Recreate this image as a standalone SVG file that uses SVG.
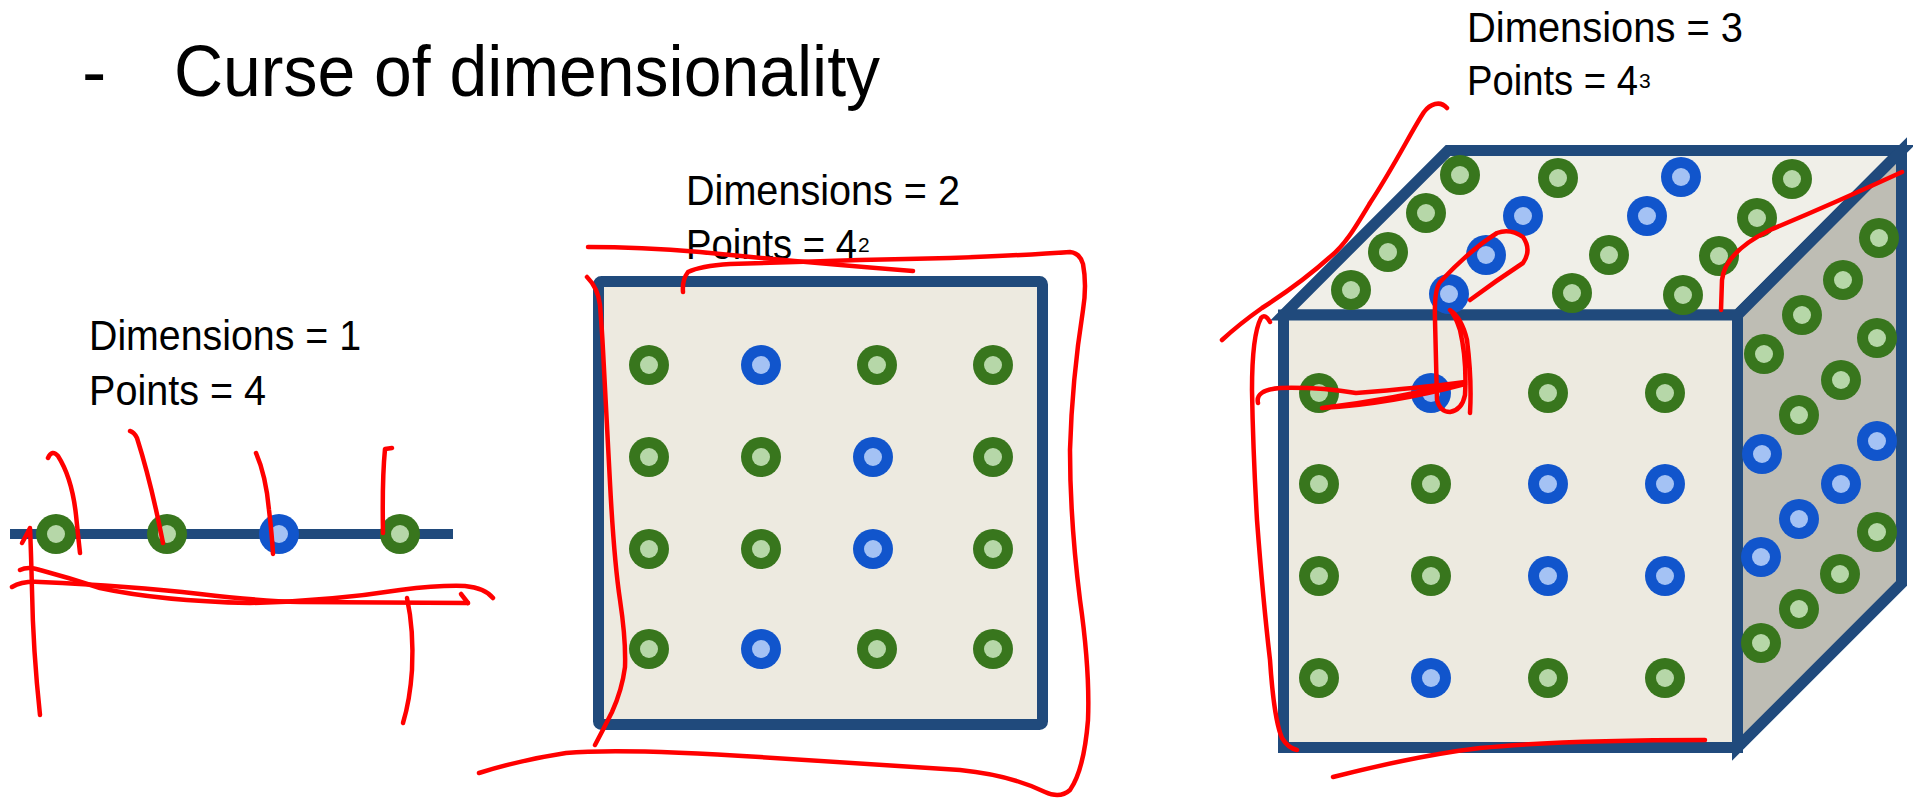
<svg xmlns="http://www.w3.org/2000/svg" xmlns:xlink="http://www.w3.org/1999/xlink" width="1913" height="799" viewBox="0 0 1913 799">
<style>
.t{font-family:"Liberation Sans",Arial,sans-serif;fill:#000}
.lbl{font-size:43px}
.sup{font-size:21px}
.edge{stroke:#204a7c;stroke-width:11;stroke-linejoin:miter}
.ink{fill:none;stroke:#ff0000;stroke-width:4.5;stroke-linecap:round;stroke-linejoin:round}
</style>
<defs>
<g id="gdot"><circle r="20" fill="#38761d"/><circle r="9" fill="#b6d7a8"/></g>
<g id="bdot"><circle r="20" fill="#1155cc"/><circle r="9" fill="#a4c2f4"/></g>
</defs>
<rect width="1913" height="799" fill="#ffffff"/>

<g id="title">
<text class="t" x="82" y="96" font-size="73">-</text>
<text class="t" x="174" y="96" font-size="73" textLength="706" lengthAdjust="spacingAndGlyphs">Curse of dimensionality</text>
</g>

<g id="dim1">
<text class="t lbl" x="89" y="350" textLength="272" lengthAdjust="spacingAndGlyphs">Dimensions = 1</text>
<text class="t lbl" x="89" y="405" textLength="177" lengthAdjust="spacingAndGlyphs">Points = 4</text>
<line x1="10" y1="534" x2="453" y2="534" stroke="#204a7c" stroke-width="10"/>
<use xlink:href="#gdot" x="56" y="534"/>
<use xlink:href="#gdot" x="167" y="534"/>
<use xlink:href="#bdot" x="279" y="534"/>
<use xlink:href="#gdot" x="400" y="534"/>
</g>

<g id="dim2">
<text class="t lbl" x="686" y="205" textLength="274" lengthAdjust="spacingAndGlyphs">Dimensions = 2</text>
<text class="t lbl" x="686" y="259"><tspan textLength="171" lengthAdjust="spacingAndGlyphs">Points = 4</tspan><tspan class="sup" dx="1" dy="-7">2</tspan></text>
<rect x="598.5" y="281.5" width="444" height="443" rx="3" fill="#edeae0" stroke="#204a7c" stroke-width="11"/>
<use xlink:href="#gdot" x="649" y="365"/>
<use xlink:href="#bdot" x="761" y="365"/>
<use xlink:href="#gdot" x="877" y="365"/>
<use xlink:href="#gdot" x="993" y="365"/>
<use xlink:href="#gdot" x="649" y="457"/>
<use xlink:href="#gdot" x="761" y="457"/>
<use xlink:href="#bdot" x="873" y="457"/>
<use xlink:href="#gdot" x="993" y="457"/>
<use xlink:href="#gdot" x="649" y="549"/>
<use xlink:href="#gdot" x="761" y="549"/>
<use xlink:href="#bdot" x="873" y="549"/>
<use xlink:href="#gdot" x="993" y="549"/>
<use xlink:href="#gdot" x="649" y="649"/>
<use xlink:href="#bdot" x="761" y="649"/>
<use xlink:href="#gdot" x="877" y="649"/>
<use xlink:href="#gdot" x="993" y="649"/>
</g>

<g id="dim3">
<text class="t lbl" x="1467" y="42" textLength="276" lengthAdjust="spacingAndGlyphs">Dimensions = 3</text>
<text class="t lbl" x="1467" y="95"><tspan textLength="171" lengthAdjust="spacingAndGlyphs">Points = 4</tspan><tspan class="sup" dx="1" dy="-7">3</tspan></text>
<polygon class="edge" points="1283.5,315 1448,150.5 1901.5,150.5 1737.5,315" fill="#f0efe8"/>
<polygon class="edge" points="1737.5,315 1901.5,150.5 1901.5,583.5 1737.5,747.5" fill="#bebdb4"/>
<rect class="edge" x="1283.5" y="315" width="454" height="432.5" fill="#edeae0"/>
<use xlink:href="#gdot" x="1460" y="175"/>
<use xlink:href="#gdot" x="1558" y="178"/>
<use xlink:href="#bdot" x="1681" y="177"/>
<use xlink:href="#gdot" x="1792" y="179"/>
<use xlink:href="#gdot" x="1426" y="213"/>
<use xlink:href="#bdot" x="1523" y="216"/>
<use xlink:href="#bdot" x="1647" y="216"/>
<use xlink:href="#gdot" x="1757" y="218"/>
<use xlink:href="#gdot" x="1388" y="252"/>
<use xlink:href="#bdot" x="1486" y="255"/>
<use xlink:href="#gdot" x="1609" y="255"/>
<use xlink:href="#gdot" x="1719" y="256"/>
<use xlink:href="#gdot" x="1351" y="290"/>
<use xlink:href="#bdot" x="1449" y="294"/>
<use xlink:href="#gdot" x="1572" y="293"/>
<use xlink:href="#gdot" x="1683" y="295"/>
<use xlink:href="#gdot" x="1319" y="393"/>
<use xlink:href="#bdot" x="1431" y="393"/>
<use xlink:href="#gdot" x="1548" y="393"/>
<use xlink:href="#gdot" x="1665" y="393"/>
<use xlink:href="#gdot" x="1319" y="484"/>
<use xlink:href="#gdot" x="1431" y="484"/>
<use xlink:href="#bdot" x="1548" y="484"/>
<use xlink:href="#bdot" x="1665" y="484"/>
<use xlink:href="#gdot" x="1319" y="576"/>
<use xlink:href="#gdot" x="1431" y="576"/>
<use xlink:href="#bdot" x="1548" y="576"/>
<use xlink:href="#bdot" x="1665" y="576"/>
<use xlink:href="#gdot" x="1319" y="678"/>
<use xlink:href="#bdot" x="1431" y="678"/>
<use xlink:href="#gdot" x="1548" y="678"/>
<use xlink:href="#gdot" x="1665" y="678"/>
<use xlink:href="#gdot" x="1879" y="238"/>
<use xlink:href="#gdot" x="1843" y="280"/>
<use xlink:href="#gdot" x="1802" y="315"/>
<use xlink:href="#gdot" x="1877" y="338"/>
<use xlink:href="#gdot" x="1764" y="354"/>
<use xlink:href="#gdot" x="1841" y="380"/>
<use xlink:href="#gdot" x="1799" y="415"/>
<use xlink:href="#bdot" x="1877" y="441"/>
<use xlink:href="#bdot" x="1762" y="454"/>
<use xlink:href="#bdot" x="1841" y="484"/>
<use xlink:href="#bdot" x="1799" y="519"/>
<use xlink:href="#gdot" x="1877" y="532"/>
<use xlink:href="#bdot" x="1761" y="557"/>
<use xlink:href="#gdot" x="1840" y="574"/>
<use xlink:href="#gdot" x="1799" y="609"/>
<use xlink:href="#gdot" x="1761" y="643"/>
</g>

<g id="annotations">
<path class="ink" d="M48,458 Q52,449 58,456 Q72,478 76,515 Q78,535 80,553"/>
<path class="ink" d="M130,431 Q134,432 137,438 Q151,482 163,543"/>
<path class="ink" d="M256,453 Q266,476 269,510 Q272,535 273,554"/>
<path class="ink" d="M392,448 L385,449 Q382,480 383,533"/>
<path class="ink" d="M40,715 Q33,650 32,590 Q31,550 30,528 Q27,534 22,543"/>
<path class="ink" d="M12,587 Q22,581 40,582 Q130,586 200,594 Q260,601 300,602 L468,603"/>
<path class="ink" d="M461,594 L468,603"/>
<path class="ink" d="M20,570 Q28,566 40,570 Q70,578 100,588 Q160,601 250,603 Q330,601 400,590 Q440,585 465,586 Q485,588 493,598"/>
<path class="ink" d="M407,598 Q414,630 412,670 Q410,700 403,723"/>
<path class="ink" d="M588,247 Q640,247 700,252 Q800,262 913,271"/>
<path class="ink" d="M683,292 Q682,280 688,272 Q700,266 730,264 Q850,260 950,258 Q1030,255 1070,252 Q1080,253 1083,264 Q1087,285 1083,310 Q1072,380 1070,450 Q1070,520 1080,600 Q1090,670 1088,720 Q1084,770 1070,790 Q1060,799 1045,792 Q1010,775 960,770 Q880,765 760,757 Q620,748 566,753 Q520,760 479,773"/>
<path class="ink" d="M587,277 Q598,288 600,305 Q602,330 603,350 L610,483 Q614,560 620,600 Q626,640 625,667 Q622,690 612,712 Q603,730 595,745"/>
<path class="ink" d="M1447,108 C1440,100 1430,104 1424,112 C1412,130 1395,165 1370,203 C1355,228 1345,245 1330,257 C1310,275 1290,290 1262,308 C1245,320 1235,328 1222,340"/>
<path class="ink" d="M1270,322 Q1265,313 1261,318 Q1252,335 1252,390 Q1253,450 1257,520 Q1263,600 1270,660 Q1274,720 1282,738 Q1288,748 1297,750"/>
<path class="ink" d="M1333,777 Q1420,755 1480,748 Q1560,740 1705,740"/>
<path class="ink" d="M1258,403 Q1255,390 1280,388 Q1320,387 1356,393 Q1420,388 1465,382 Q1390,400 1322,408 Q1390,404 1465,384"/>
<path class="ink" d="M1470,300 Q1497,280 1523,263 Q1532,250 1523,237 Q1510,228 1497,233 Q1470,250 1440,282 Q1434,290 1435,320 L1437,400 Q1440,412 1450,412 Q1462,410 1465,395 Q1467,360 1460,330 Q1455,315 1450,310 Q1462,318 1467,340 Q1472,380 1470,413"/>
<path class="ink" d="M1902,172 Q1830,205 1770,230 Q1725,252 1722,280 L1721,310"/>
</g>
</svg>
